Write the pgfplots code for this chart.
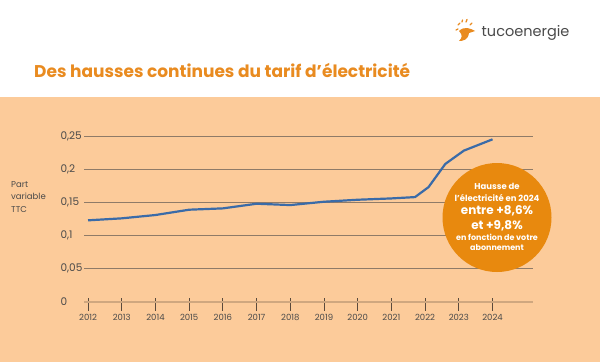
\documentclass[border=0pt]{standalone}
\usepackage{pgfplots}
\pgfplotsset{compat=1.18}
\usepackage{fontspec}
\setmainfont{Poppins}
\definecolor{peach}{HTML}{FCCB9A}
\definecolor{titleor}{HTML}{E98B20}
\definecolor{circ}{HTML}{E8890E}
\definecolor{lineblue}{HTML}{3A6BA8}
\definecolor{gridc}{HTML}{8F7B68}
\definecolor{zeroc}{HTML}{CFA77F}
\definecolor{txt}{HTML}{4A4A4A}
\definecolor{tickc}{HTML}{5A4A3C}

\pgfplotstableread{
x y
2012 0.123
2013 0.126
2014 0.131
2015 0.139
2016 0.141
2017 0.148
2018 0.146
2019 0.151
2020 0.154
2021 0.156
2021.7 0.158
2022.1 0.173
2022.6 0.208
2023.15 0.228
2024 0.245
}\tarif

\begin{document}
\begin{tikzpicture}
\begin{scope}[x=1bp,y=1bp]
\fill[white] (0,0) rectangle (600,362);
\fill[peach] (0,0) rectangle (600,265);
\path[use as bounding box] (0,0) rectangle (600,362);
% title
\node[anchor=west, inner sep=0pt, text=titleor, font=\fontsize{17bp}{20bp}\selectfont\bfseries] at (34,292) {Des hausses continues du tarif d’électricité};
% logo
\node[anchor=west, inner sep=0pt, text=txt, font=\fontsize{14.5bp}{17bp}\selectfont] at (481.5,329.5) {tucoenergie};
\begin{scope}[titleor, line width=1.3bp, line cap=round]
\draw (458,337) -- (460,339);
\draw (462,340) -- (462.5,342);
\draw (466,340) -- (467,342.5);
\draw (456,332) -- (458,333);
\draw (470,337) -- (472,339);
\fill (459,331) .. controls (464,336) and (470,334) .. (475,331) -- (469,329) .. controls (468,322) and (463,321) .. (459,321) .. controls (462,324) and (463,327) .. (459,331) -- cycle;
\end{scope}
% y label
\node[anchor=north west, align=left, inner sep=0pt, text=txt, font=\fontsize{8.5bp}{12.5bp}\selectfont] at (11,181) {Part\\variable\\TTC};
\end{scope}
\begin{axis}[
  at={(84bp,60bp)}, anchor=south west,
  scale only axis, width=449bp, height=166bp,
  xmin=2011.88, xmax=2025.2, ymin=0, ymax=0.25,
  clip=false,
  axis line style={draw=none},
  tick pos=left,
  ymajorgrids, grid style={gridc, line width=0.8bp},
  ytick={0.05,0.1,0.15,0.2,0.25},
  yticklabels={{0,05},{0,1},{0,15},{0,2},{0,25}},
  extra y ticks={0}, extra y tick labels={0},
  extra y tick style={grid style={zeroc, line width=2.4bp}},
  ytick style={draw=none},
  yticklabel style={anchor=west, xshift=-27bp, text=txt, font=\fontsize{10.5bp}{12bp}\selectfont},
  xtick={2012,...,2024},
  xticklabels={2012,2013,2014,2015,2016,2017,2018,2019,2020,2021,2022,2023,2024},
  xtick align=center, major tick length=13bp,
  xtick style={tickc, line width=0.8bp, yshift=-2bp},
  xticklabel style={text=txt, yshift=-2bp, font=\fontsize{8.5bp}{10bp}\selectfont},
]
\addplot[lineblue, line width=2.2bp, no markers] table[x=x, y=y] {\tarif};
\end{axis}
\begin{scope}[x=1bp,y=1bp]
% callout
\fill[circ] (497,144.5) circle (54.5);
\node[text=white, font=\fontsize{8.5bp}{10bp}\selectfont\bfseries] at (497,175.3) {Hausse de};
\node[text=white, font=\fontsize{8.5bp}{10bp}\selectfont\bfseries] at (497,164.3) {l’électricité en 2024};
\node[text=white, font=\fontsize{12bp}{14bp}\selectfont\bfseries] at (497,151) {entre +8,6\%};
\node[text=white, font=\fontsize{12bp}{14bp}\selectfont\bfseries] at (497,136.3) {et +9,8\%};
\node[text=white, font=\fontsize{8bp}{10bp}\selectfont\bfseries] at (497,124.3) {en fonction de votre};
\node[text=white, font=\fontsize{8bp}{10bp}\selectfont\bfseries] at (497,114.3) {abonnement};
\end{scope}
\end{tikzpicture}
\end{document}
